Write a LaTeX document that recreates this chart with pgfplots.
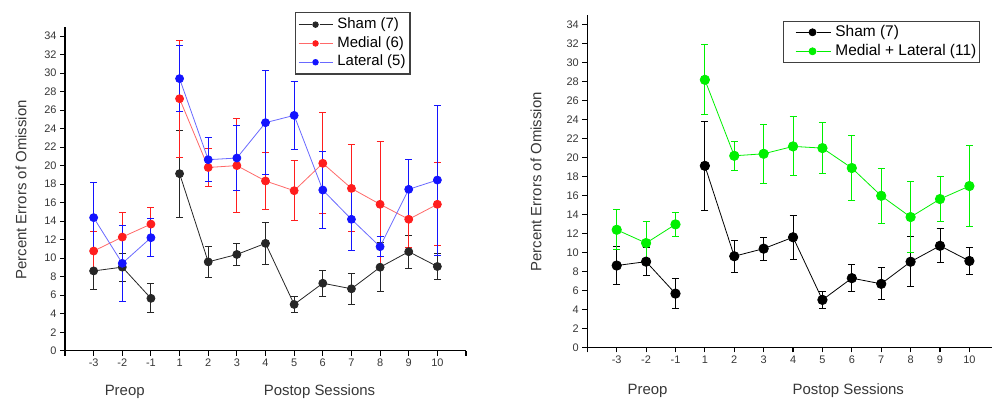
\documentclass[border=0pt]{standalone}
\usepackage{fontspec}
\setmainfont{Liberation Sans}
\usepackage{pgfplots}
\pgfplotsset{compat=1.18}
\definecolor{cred}{RGB}{255,30,30}
\definecolor{lred}{RGB}{255,105,105}
\definecolor{cblue}{RGB}{20,20,255}
\definecolor{lblue}{RGB}{105,105,255}
\definecolor{cgreen}{RGB}{0,240,0}
\definecolor{txt}{RGB}{55,55,55}
\pgfplotsset{
  myax/.style={
    scale only axis,
    axis x line=bottom, axis y line=left,
    axis line style={-, line width=1.4bp, black},
    tick align=outside, major tick length=5bp,
    every tick/.style={black, line width=1.1bp},
    xmin=0, ymin=0, ymax=35,
    ytick={0,2,...,34},
    tick label style={font=\fontsize{11}{13}\selectfont, text=txt},
    /pgf/number format/assume math mode=true,
    legend cell align=left,
    legend style={font=\fontsize{15}{17}\selectfont, draw=black!75, line width=1.2bp,
      inner sep=2.5bp, row sep=0.3bp, column sep=2.5bp,
      nodes={inner sep=2bp, text height=11bp, text depth=3.5bp}},
    legend image code/.code={\draw[##1] (0bp,0bp)--(13bp,0bp) (21bp,0bp)--(34bp,0bp);
      \draw[##1] plot coordinates {(17bp,0bp)};},
    legend image post style={mark size=2.8bp},
    clip=false,
  },
  ser/.style={color=#1, line width=0.8bp, mark=*, mark size=4bp,
    mark options={fill=#1, draw=#1},
    error bars/y dir=both, error bars/y explicit,
    error bars/error bar style={#1, line width=1bp},
    error bars/error mark options={rotate=90, mark size=3.5bp, #1, line width=1bp}},
}
\begin{document}
\begin{tikzpicture}[x=1bp,y=1bp]
\useasboundingbox (0,0) rectangle (992,398);
% ---------------- left panel
\begin{axis}[myax, at={(65bp,47.3bp)}, anchor=south west,
  width=401bp, height=323.9bp, xmax=14,
  xtick={0,...,14}, xticklabels={,-3,-2,-1,1,2,3,4,5,6,7,8,9,10,},
  legend style={at={(0.5736,1.0448)}, anchor=north west}]
\addplot[ser=black!85] coordinates {(1,8.62)+-(0,2.05) (2,9.03)+-(0,1.5) (3,5.66)+-(0,1.55)};
\addlegendentry{Sham (7)}
\addplot[ser=cred, draw=lred] coordinates {(1,10.77)+-(0,2.1) (2,12.28)+-(0,2.67) (3,13.68)+-(0,1.8)};
\addlegendentry{Medial (6)}
\addplot[ser=cblue, draw=lblue] coordinates {(1,14.38)+-(0,3.8) (2,9.44)+-(0,4.1) (3,12.21)+-(0,2.05)};
\addlegendentry{Lateral (5)}
\addplot[ser=black!85, forget plot] coordinates {(4,19.13)+-(0,4.7) (5,9.6)+-(0,1.68) (6,10.4)+-(0,1.2) (7,11.6)+-(0,2.3) (8,5.0)+-(0,0.86) (9,7.29)+-(0,1.4) (10,6.69)+-(0,1.7) (11,9.02)+-(0,2.65) (12,10.7)+-(0,1.8) (13,9.1)+-(0,1.4)};
\addplot[ser=cred, draw=lred, forget plot] coordinates {(4,27.23)+-(0,6.3) (5,19.8)+-(0,2.05) (6,20.0)+-(0,5.1) (7,18.34)+-(0,3.1) (8,17.29)+-(0,3.25) (9,20.25)+-(0,5.45) (10,17.54)+-(0,4.7) (11,15.82)+-(0,6.76) (12,14.2)+-(0,3.0) (13,15.82)+-(0,4.5)};
\addplot[ser=cblue, draw=lblue, forget plot] coordinates {(4,29.4)+-(0,3.6) (5,20.64)+-(0,2.4) (6,20.82)+-(0,3.5) (7,24.64)+-(0,5.6) (8,25.43)+-(0,3.7) (9,17.36)+-(0,4.2) (10,14.2)+-(0,3.35) (11,11.24)+-(0,1.1) (12,17.44)+-(0,3.2) (13,18.44)+-(0,8.1)};
\end{axis}
% ---------------- right panel
\begin{axis}[myax, at={(587.3bp,50.7bp)}, anchor=south west,
  width=404.7bp, height=332bp, xmax=13.77,
  xtick={0,...,13}, xticklabels={,-3,-2,-1,1,2,3,4,5,6,7,8,9,10},
  legend style={at={(0.4836,0.9837)}, anchor=north west, font=\fontsize{15.5}{17}\selectfont,
    inner sep=1.5bp, row sep=0bp, nodes={inner sep=2bp, text height=11.5bp, text depth=3.5bp}},
  legend image code/.code={\path (0bp,0bp); \draw[#1] (10bp,0bp)--(23bp,0bp) (31bp,0bp)--(45bp,0bp);
      \draw[#1] plot coordinates {(27bp,0bp)};},
  legend image post style={mark size=3.5bp}]
\addplot[ser=black, mark size=4.7bp] coordinates {(1,8.62)+-(0,2.05) (2,9.03)+-(0,1.5) (3,5.66)+-(0,1.55)};
\addlegendentry{Sham (7)}
\addplot[ser=cgreen, mark size=4.7bp] coordinates {(1,12.39)+-(0,2.1) (2,10.99)+-(0,2.3) (3,12.96)+-(0,1.3)};
\addlegendentry{Medial + Lateral (11)}
\addplot[ser=black, mark size=4.7bp, forget plot] coordinates {(4,19.13)+-(0,4.7) (5,9.6)+-(0,1.68) (6,10.4)+-(0,1.2) (7,11.6)+-(0,2.3) (8,5.0)+-(0,0.86) (9,7.29)+-(0,1.4) (10,6.69)+-(0,1.7) (11,9.02)+-(0,2.65) (12,10.7)+-(0,1.8) (13,9.1)+-(0,1.4)};
\addplot[ser=cgreen, mark size=4.7bp, forget plot] coordinates {(4,28.2)+-(0,3.7) (5,20.19)+-(0,1.5) (6,20.4)+-(0,3.1) (7,21.18)+-(0,3.1) (8,21.0)+-(0,2.7) (9,18.9)+-(0,3.4) (10,15.97)+-(0,2.9) (11,13.73)+-(0,3.7) (12,15.63)+-(0,2.4) (13,17.0)+-(0,4.3)};
\end{axis}
% ---------------- labels
\begin{scope}[every node/.style={font=\fontsize{15}{17}\selectfont, text=txt}]
\node[anchor=base] at (124.7,3) {Preop};
\node[anchor=base] at (319.5,3) {Postop Sessions};
\node[anchor=base] at (647.5,4) {Preop};
\node[anchor=base] at (848.3,4) {Postop Sessions};
\node[rotate=90] at (21,208) {Percent Errors of Omission};
\node[rotate=90] at (536,216) {Percent Errors of Omission};
\end{scope}
\end{tikzpicture}
\end{document}
